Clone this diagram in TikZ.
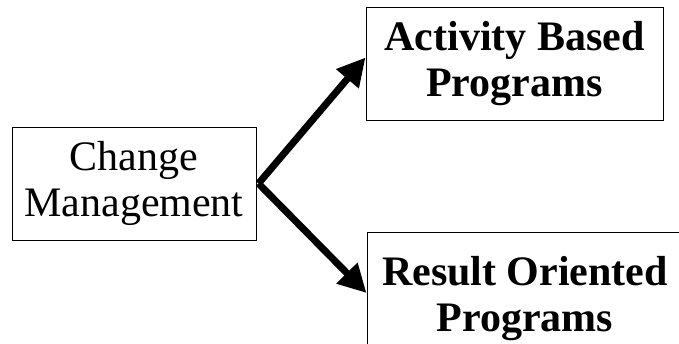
\documentclass[tikz,border=0pt]{standalone}
\usepackage{fontspec}
\setmainfont{Liberation Serif}
\usepackage{tikz}
\usetikzlibrary{arrows.meta}

\begin{document}
\begin{tikzpicture}[x=1pt, y=-1pt, font=\fontsize{42}{46}\selectfont]
\clip (0,0) rectangle (679,343);

% Change Management
\node[draw, rectangle, line width=1pt, minimum width=244pt, minimum height=113pt, align=center, inner sep=0pt] (change) at (134,183.5) {
    Change\\Management
};

% Activity Based Programs
\node[draw, rectangle, line width=1pt, minimum width=297pt, minimum height=113pt, align=center, inner sep=0pt] (activity) at (514.5,63.5) {
    \textbf{Activity Based}\\\textbf{Programs}
};

% Result Oriented Programs
\node[draw, rectangle, line width=1pt, minimum width=316pt, minimum height=133pt, align=center, inner sep=0pt] (result) at (525,298.5) {
    \textbf{Result Oriented}\\\textbf{Programs}
};

% Arrows
\draw[-{Triangle[length=28pt, width=28pt]}, line width=7pt] ([xshift=2pt]change.east) -- ([yshift=6pt]activity.west);
\draw[-{Triangle[length=28pt, width=28pt]}, line width=7pt] ([xshift=2pt]change.east) -- ([yshift=5.5pt]result.west);

\end{tikzpicture}
\end{document}
